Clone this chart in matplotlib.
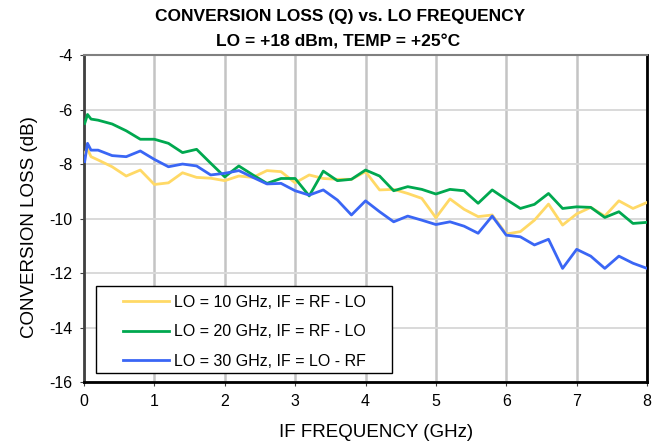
import matplotlib
matplotlib.use('Agg')
import matplotlib.pyplot as plt
from matplotlib.patches import Rectangle

plt.rcParams['font.family'] = ['Liberation Sans', 'DejaVu Sans']
plt.rcParams['axes.unicode_minus'] = False

# IF frequency (GHz)
freq = [0.01, 0.05, 0.1, 0.2, 0.4, 0.6, 0.8, 1.0, 1.2, 1.4, 1.6, 1.8, 2.0,
        2.2, 2.4, 2.6, 2.8, 3.0, 3.2, 3.4, 3.6, 3.8, 4.0, 4.2, 4.4, 4.6, 4.8,
        5.0, 5.2, 5.4, 5.6, 5.8, 6.0, 6.2, 6.4, 6.6, 6.8, 7.0, 7.2, 7.4, 7.6,
        7.8, 8.0]

# conversion loss (dB)
lo10 = [-7.6, -7.45, -7.73, -7.85, -8.1, -8.44, -8.22, -8.75, -8.69, -8.32,
        -8.49, -8.52, -8.61, -8.44, -8.49, -8.24, -8.28, -8.69, -8.40, -8.53,
        -8.56, -8.56, -8.28, -8.95, -8.93, -9.08, -9.26, -9.97, -9.28, -9.66,
        -9.93, -9.87, -10.57, -10.48, -10.06, -9.47, -10.24, -9.83, -9.59,
        -9.91, -9.35, -9.63, -9.41]
lo20 = [-6.51, -6.18, -6.35, -6.39, -6.53, -6.78, -7.09, -7.09, -7.24, -7.58,
        -7.46, -7.97, -8.47, -8.07, -8.40, -8.71, -8.53, -8.53, -9.17, -8.26,
        -8.61, -8.56, -8.22, -8.44, -8.98, -8.83, -8.93, -9.10, -8.93, -8.98,
        -9.44, -8.95, -9.30, -9.63, -9.48, -9.08, -9.63, -9.57, -9.59, -9.96,
        -9.75, -10.18, -10.14]
lo30 = [-7.91, -7.24, -7.49, -7.49, -7.69, -7.73, -7.52, -7.83, -8.10, -8.0,
        -8.07, -8.40, -8.34, -8.24, -8.49, -8.73, -8.71, -8.98, -9.14, -8.95,
        -9.32, -9.87, -9.35, -9.75, -10.12, -9.91, -10.06, -10.22, -10.12,
        -10.28, -10.54, -9.91, -10.61, -10.67, -10.97, -10.76, -11.83, -11.13,
        -11.38, -11.83, -11.38, -11.64, -11.83]

labels = ['LO = 10 GHz, IF = RF - LO',
          'LO = 20 GHz, IF = RF - LO',
          'LO = 30 GHz, IF = LO - RF']
colors = ['#FFD966', '#00A84F', '#3A66F5']

fig = plt.figure(figsize=(6.65, 4.44), dpi=100)
ax = fig.add_axes([0.1263, 0.1396, 0.8467, 0.7364])

for ys, lab, c in zip([lo10, lo20, lo30], labels, colors):
    ax.plot(freq, ys, color=c, lw=2.0, label=lab, zorder=3)

ax.set_xlim(0, 8)
ax.set_ylim(-16, -4)
ax.set_xticks(range(0, 9))
ax.set_yticks(range(-16, -3, 2))

ax.xaxis.grid(True, color='#C4C4C4', lw=1.8)
ax.yaxis.grid(True, color='#D9D9D9', lw=1.4)
ax.set_axisbelow(True)

ax.spines['left'].set_color('#404040')
ax.spines['left'].set_linewidth(2)
ax.spines['bottom'].set_color('black')
ax.spines['bottom'].set_linewidth(2)
ax.spines['right'].set_color('black')
ax.spines['right'].set_linewidth(2)
ax.spines['top'].set_color('#808080')
ax.spines['top'].set_linewidth(1.5)

ax.tick_params(axis='both', labelsize=11.5, length=3, color='#404040', pad=5.5)

fig.text(0.565, 0.027, 'IF FREQUENCY (GHz)', fontsize=13.5, ha='center', va='center')
fig.text(0.045, 0.488, 'CONVERSION LOSS (dB)', fontsize=13.5, ha='center',
         va='center', rotation=90)
fig.text(0.512, 0.963, 'CONVERSION LOSS (Q) vs. LO FREQUENCY', fontsize=12.5,
         fontweight='bold', ha='center', va='center')
fig.text(0.508, 0.906, 'LO = +18 dBm, TEMP = +25\u00b0C', fontsize=12.5,
         fontweight='bold', ha='center', va='center')

# legend box drawn separately so its padding can match
ax.add_patch(Rectangle((0.0213, 0.0275), 0.5257, 0.2661, transform=ax.transAxes,
                       facecolor='white', edgecolor='black', lw=1, zorder=4))
leg = ax.legend(loc='upper left', bbox_to_anchor=(0.0693, 0.266), fontsize=11.5,
                frameon=False, borderpad=0, borderaxespad=0,
                handlelength=2.9, handletextpad=0.3, labelspacing=0.9)
leg.set_zorder(5)

fig.savefig('out.png', dpi=100)
